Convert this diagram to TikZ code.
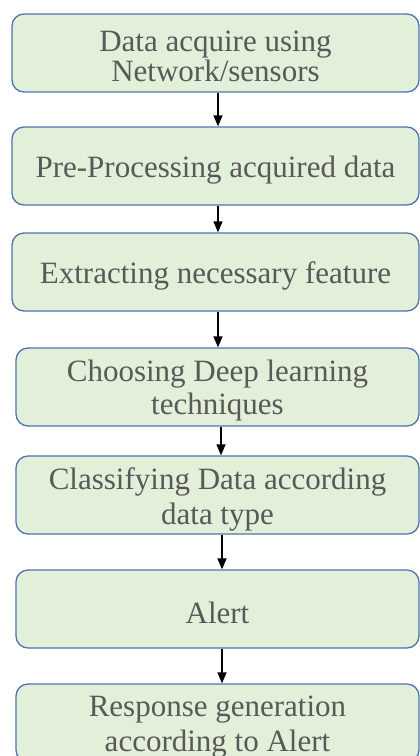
\documentclass[tikz,border=0pt]{standalone}
\usepackage{fontspec}
\setmainfont{Liberation Serif}
\usetikzlibrary{arrows.meta}
\definecolor{boxfill}{HTML}{E2EFD9}
\definecolor{boxline}{HTML}{4F74B0}
\definecolor{txt}{HTML}{595959}
\tikzset{
  stepbox/.style={draw=boxline, line width=1.3pt, fill=boxfill, rounded corners=12pt,
    minimum height=78pt, inner sep=0pt},
  steptext/.style={align=center, text=txt, font=\fontsize{31}{30}\selectfont, inner sep=0pt},
  arr/.style={draw=black, line width=1.4pt, -{Triangle[length=11pt,width=9pt]}}
}
\begin{document}
\begin{tikzpicture}[x=1pt,y=1pt]
\useasboundingbox (0,0) rectangle (420,-756);
\clip (0,0) rectangle (420,-756);
\node[stepbox, minimum width=407pt] (b1) at (215.5,-53) {};
\node[stepbox, minimum width=407pt] (b2) at (215.5,-166) {};
\node[stepbox, minimum width=407pt] (b3) at (215.5,-272) {};
\node[stepbox, minimum width=403pt] (b4) at (217.5,-387) {};
\node[stepbox, minimum width=403pt] (b5) at (217.5,-495) {};
\node[stepbox, minimum width=403pt] (b6) at (217.5,-609) {};
\node[stepbox, minimum width=403pt] (b7) at (217.5,-723) {};
\node[steptext] (t1) at ([yshift=-3pt]b1.center) {Data acquire using\\Network/sensors};
\node[steptext] (t2) at ([yshift=-4pt]b2.center) {Pre-Processing acquired data};
\node[steptext] (t3) at ([yshift=-4pt]b3.center) {Extracting necessary feature};
\node[steptext] (t4) at ([yshift=-4pt]b4.center) {Choosing Deep learning\\[3pt]techniques};
\node[steptext] (t5) at ([yshift=-4pt]b5.center) {Classifying Data according\\[5pt]data type};
\node[steptext] (t6) at ([yshift=-4pt]b6.center) {Alert};
\node[steptext] (t7) at ([yshift=-4pt]b7.center) {Response generation\\[5pt]according to Alert};
\draw[arr] ([xshift=2.5pt]b1.south) -- ([xshift=2.5pt]b2.north);
\draw[arr] ([xshift=2.5pt]b2.south) -- ([xshift=2.5pt]b3.north);
\draw[arr] ([xshift=2.5pt]b3.south) -- ([xshift=0.5pt]b4.north);
\draw[arr] ([xshift=3.5pt]b4.south) -- ([xshift=3.5pt]b5.north);
\draw[arr] ([xshift=4.5pt]b5.south) -- ([xshift=4.5pt]b6.north);
\draw[arr] ([xshift=4.5pt]b6.south) -- ([xshift=4.5pt]b7.north);
\end{tikzpicture}
\end{document}
